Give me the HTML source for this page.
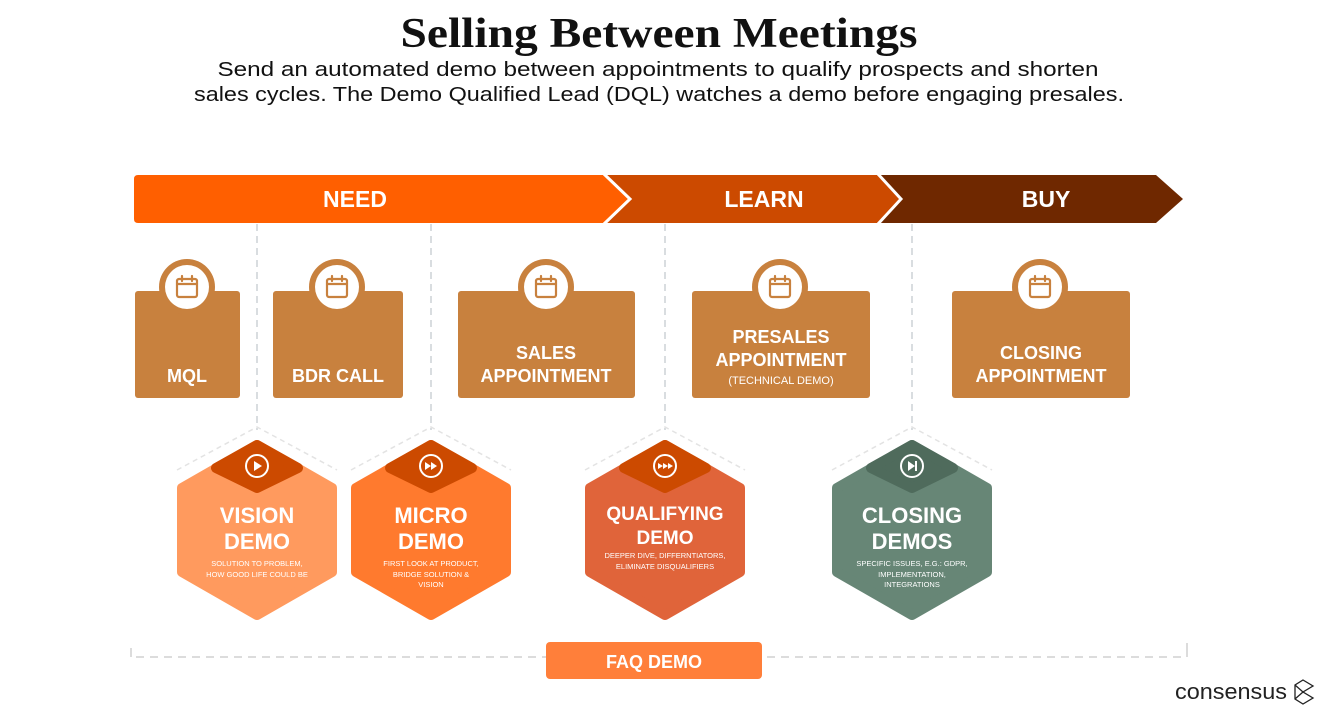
<!DOCTYPE html>
<html><head><meta charset="utf-8"><style>
html,body{margin:0;padding:0;background:#fff;}
svg{display:block;}
text{font-family:"Liberation Sans",sans-serif;}
text.serif{font-family:"Liberation Serif",serif;}
</style></head><body>
<svg width="1320" height="721" viewBox="0 0 1320 721" xmlns="http://www.w3.org/2000/svg">
<text class="serif" x="659" y="47" text-anchor="middle" font-weight="bold" font-size="42" fill="#111" textLength="517" lengthAdjust="spacingAndGlyphs">Selling Between Meetings</text>
<text x="658" y="76" text-anchor="middle" font-size="20" fill="#111" textLength="881" lengthAdjust="spacingAndGlyphs">Send an automated demo between appointments to qualify prospects and shorten</text>
<text x="659" y="101" text-anchor="middle" font-size="20" fill="#111" textLength="930" lengthAdjust="spacingAndGlyphs">sales cycles. The Demo Qualified Lead (DQL) watches a demo before engaging presales.</text>

<!-- arrow -->
<path d="M877 175 L1156 175 L1183 199 L1156 223 L877 223 L900 199 Z" fill="#6f2800"/>
<path d="M603 175 L877 175 L900 199 L877 223 L603 223 L629 199 Z" fill="#cc4a00"/>
<path d="M138 175 L603 175 L629 199 L603 223 L138 223 Q134 223 134 219 L134 179 Q134 175 138 175 Z" fill="#ff5f00"/>
<path d="M604 174 L630 199 L604 224 M878 174 L901 199 L878 224" stroke="#fff" stroke-width="3" fill="none"/>
<g fill="#fff" font-weight="bold" font-size="23" text-anchor="middle">
<text x="355" y="207">NEED</text>
<text x="764" y="207">LEARN</text>
<text x="1046" y="207">BUY</text>
</g>

<!-- dashed verticals -->
<g stroke="#d9dde0" stroke-width="2" stroke-dasharray="7,5" fill="none">
<line x1="257" y1="224" x2="257" y2="430"/>
<line x1="431" y1="224" x2="431" y2="430"/>
<line x1="665" y1="224" x2="665" y2="430"/>
<line x1="912" y1="224" x2="912" y2="430"/>
</g>

<!-- appointment boxes -->
<g fill="#c8813e">
<rect x="135" y="291" width="105" height="107" rx="3"/>
<rect x="273" y="291" width="130" height="107" rx="3"/>
<rect x="458" y="291" width="177" height="107" rx="3"/>
<rect x="692" y="291" width="178" height="107" rx="3"/>
<rect x="952" y="291" width="178" height="107" rx="3"/>
<circle cx="187" cy="287" r="28"/><circle cx="337" cy="287" r="28"/><circle cx="546" cy="287" r="28"/><circle cx="780" cy="287" r="28"/><circle cx="1040" cy="287" r="28"/>
</g>
<g fill="#fff">
<circle cx="187" cy="287" r="22"/><circle cx="337" cy="287" r="22"/><circle cx="546" cy="287" r="22"/><circle cx="780" cy="287" r="22"/><circle cx="1040" cy="287" r="22"/>
</g>
<g stroke="#c8813e" stroke-width="2.2" fill="none" stroke-linecap="round">
<g id="cal"><rect x="177" y="279" width="20" height="18" rx="2"/><line x1="177" y1="284" x2="197" y2="284"/><line x1="182" y1="276" x2="182" y2="281"/><line x1="192" y1="276" x2="192" y2="281"/></g>
<use href="#cal" x="150"/><use href="#cal" x="359"/><use href="#cal" x="593"/><use href="#cal" x="853"/>
</g>
<g fill="#fff" font-weight="bold" font-size="18" text-anchor="middle">
<text x="187" y="382">MQL</text>
<text x="338" y="382">BDR CALL</text>
<text x="546" y="359">SALES</text>
<text x="546" y="382">APPOINTMENT</text>
<text x="781" y="343">PRESALES</text>
<text x="781" y="366">APPOINTMENT</text>
<text x="781" y="384" font-size="11" font-weight="normal">(TECHNICAL DEMO)</text>
<text x="1041" y="359">CLOSING</text>
<text x="1041" y="382">APPOINTMENT</text>
</g>

<!-- hex dashed outlines -->
<g stroke="#e3e3e3" stroke-width="1.5" stroke-dasharray="5,4" fill="none">
<path d="M177 470 L257 427 L337 470"/>
<path d="M351 470 L431 427 L511 470"/>
<path d="M585 470 L665 427 L745 470"/>
<path d="M832 470 L912 427 L992 470"/>
</g>

<!-- hexes -->
<g stroke-linejoin="round" stroke-width="10">
<path d="M257 445 L332 488 L332 572 L257 615 L182 572 L182 488 Z" fill="#ff9a5e" stroke="#ff9a5e"/>
<path d="M257 445 L298 468 L257 488 L216 468 Z" fill="#cc4a00" stroke="#cc4a00"/>
<path d="M431 445 L506 488 L506 572 L431 615 L356 572 L356 488 Z" fill="#ff7a2e" stroke="#ff7a2e"/>
<path d="M431 445 L472 468 L431 488 L390 468 Z" fill="#cc4a00" stroke="#cc4a00"/>
<path d="M665 445 L740 488 L740 572 L665 615 L590 572 L590 488 Z" fill="#e0643a" stroke="#e0643a"/>
<path d="M665 445 L706 468 L665 488 L624 468 Z" fill="#cc4a00" stroke="#cc4a00"/>
<path d="M912 445 L987 488 L987 572 L912 615 L837 572 L837 488 Z" fill="#678676" stroke="#678676"/>
<path d="M912 445 L953 468 L912 488 L871 468 Z" fill="#4f6b5c" stroke="#4f6b5c"/>
</g>
<g stroke="#fff" stroke-width="2" fill="none">
<circle cx="257" cy="466" r="11"/><circle cx="431" cy="466" r="11"/><circle cx="665" cy="466" r="11"/><circle cx="912" cy="466" r="11"/>
</g>
<g fill="#fff">
<path d="M254 461 L262 466 L254 471 Z"/>
<path d="M425 462 L431 466 L425 470 Z M431 462 L437 466 L431 470 Z"/>
<path d="M658 463 L663 466 L658 469 Z M663 463 L668 466 L663 469 Z M668 463 L673 466 L668 469 Z"/>
<path d="M908 461 L915 466 L908 471 Z"/><rect x="915" y="461" width="2" height="10"/>
</g>
<g fill="#fff" font-weight="bold" text-anchor="middle">
<text x="257" y="523" font-size="22">VISION</text>
<text x="257" y="549" font-size="22">DEMO</text>
<text x="431" y="523" font-size="22">MICRO</text>
<text x="431" y="549" font-size="22">DEMO</text>
<text x="665" y="520" font-size="19">QUALIFYING</text>
<text x="665" y="544" font-size="19">DEMO</text>
<text x="912" y="523" font-size="22">CLOSING</text>
<text x="912" y="549" font-size="22">DEMOS</text>
</g>
<g fill="#fff" font-size="7.5" text-anchor="middle">
<text x="257" y="566">SOLUTION TO PROBLEM,</text>
<text x="257" y="577">HOW GOOD LIFE COULD BE</text>
<text x="431" y="566">FIRST LOOK AT PRODUCT,</text>
<text x="431" y="577">BRIDGE SOLUTION &amp;</text>
<text x="431" y="587">VISION</text>
<text x="665" y="558">DEEPER DIVE, DIFFERNTIATORS,</text>
<text x="665" y="569">ELIMINATE DISQUALIFIERS</text>
<text x="912" y="566">SPECIFIC ISSUES, E.G.: GDPR,</text>
<text x="912" y="577">IMPLEMENTATION,</text>
<text x="912" y="587">INTEGRATIONS</text>
</g>

<!-- bottom bracket -->
<g stroke="#dcdcdc" stroke-width="2" fill="none">
<path d="M131 648 L131 657" />
<path d="M1187 643 L1187 657"/>
<line x1="136" y1="657" x2="546" y2="657" stroke-dasharray="8,6"/>
<line x1="767" y1="657" x2="1184" y2="657" stroke-dasharray="8,6"/>
</g>
<rect x="546" y="642" width="216" height="37" rx="4" fill="#ff7f3a"/>
<text x="654" y="668" text-anchor="middle" fill="#fff" font-weight="bold" font-size="18">FAQ DEMO</text>

<!-- logo -->
<text x="1175" y="699" font-size="22" fill="#222" textLength="112" lengthAdjust="spacingAndGlyphs">consensus</text>
<g stroke="#222" stroke-width="1.3" fill="none">
<path d="M1303 680 L1313 686 L1303 692 L1313 698 L1303 704 L1295 699 L1295 685 Z M1295 685 L1303 692 L1295 699"/>
</g>
</svg>
</body></html>
